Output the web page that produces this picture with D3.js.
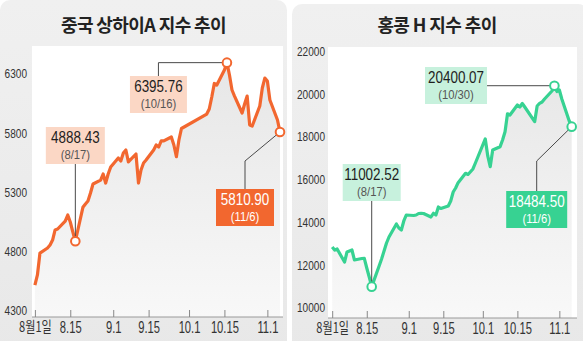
<!DOCTYPE html>
<html>
<head>
<meta charset="utf-8">
<script src="https://cdn.jsdelivr.net/npm/d3@7"></script>
<style>
  html, body { margin: 0; padding: 0; background: #fff; }
  svg { display: block; }
  .num { font-family: "Liberation Sans", Arial, sans-serif; }
  .kr  { font-family: "Noto Sans CJK KR", "Noto Sans", sans-serif; }
</style>
</head>
<body>
<svg id="chart" width="583" height="341"></svg>
<script>
// ---- Shanghai A-share index, daily close (2007) ----
const shDates = [
  "2007-08-01","2007-08-02","2007-08-03","2007-08-06","2007-08-07","2007-08-08","2007-08-09","2007-08-10",
  "2007-08-13","2007-08-14","2007-08-15","2007-08-16","2007-08-17","2007-08-20","2007-08-21","2007-08-22",
  "2007-08-23","2007-08-24","2007-08-27","2007-08-28","2007-08-29","2007-08-30","2007-08-31",
  "2007-09-03","2007-09-04","2007-09-05","2007-09-06","2007-09-07","2007-09-10","2007-09-11","2007-09-12",
  "2007-09-13","2007-09-14","2007-09-17","2007-09-18","2007-09-19","2007-09-20","2007-09-21","2007-09-24",
  "2007-09-25","2007-09-26","2007-09-27","2007-09-28",
  "2007-10-08","2007-10-09","2007-10-10","2007-10-11","2007-10-12","2007-10-15","2007-10-16","2007-10-17",
  "2007-10-18","2007-10-19","2007-10-22","2007-10-23","2007-10-24","2007-10-25","2007-10-26","2007-10-29",
  "2007-10-30","2007-10-31",
  "2007-11-01","2007-11-02","2007-11-05","2007-11-06"
];
const shValues = [
  4519, 4604, 4789, 4832, 4857, 4899, 4984, 4992,
  5059, 5110, 5051, 4967, 4888.43, 5175, 5203, 5228,
  5296, 5372, 5405, 5456, 5380, 5456, 5515,
  5591, 5566, 5633, 5659, 5558, 5625, 5380, 5490,
  5549, 5574, 5659, 5701, 5684, 5735, 5735, 5768,
  5701, 5602, 5743, 5840,
  5962, 6005, 6106, 6220, 6207, 6334, 6395.76, 6292,
  6165, 6114, 5971, 6047, 6114, 5870, 5861, 6030,
  6182, 6266,
  6241, 6081, 5912, 5810.90
];

// ---- Hang Seng China Enterprises (H-share) index, daily close (2007) ----
const hkDates = [
  "2007-08-01","2007-08-02","2007-08-03","2007-08-06","2007-08-07","2007-08-08","2007-08-09","2007-08-10",
  "2007-08-13","2007-08-14","2007-08-15","2007-08-16","2007-08-17","2007-08-20","2007-08-21","2007-08-22",
  "2007-08-23","2007-08-24","2007-08-27","2007-08-28","2007-08-29","2007-08-30","2007-08-31",
  "2007-09-03","2007-09-04","2007-09-05","2007-09-06","2007-09-07","2007-09-10","2007-09-11","2007-09-12",
  "2007-09-13","2007-09-14","2007-09-17","2007-09-18","2007-09-19","2007-09-20","2007-09-21","2007-09-24",
  "2007-09-25","2007-09-27","2007-09-28",
  "2007-10-02","2007-10-03","2007-10-04","2007-10-05","2007-10-08","2007-10-09","2007-10-10","2007-10-11",
  "2007-10-12","2007-10-15","2007-10-16","2007-10-17","2007-10-18","2007-10-22","2007-10-23","2007-10-24",
  "2007-10-25","2007-10-26","2007-10-29","2007-10-30","2007-10-31",
  "2007-11-01","2007-11-02","2007-11-05","2007-11-06"
];
const hkValues = [
  12858, 12717, 12764, 12156, 12624, 12671, 12717, 12250,
  12320, 12330, 11875, 11455, 11002.52, 11969, 12296, 12670,
  13045, 13325, 13933, 13746, 13653, 14074, 14354,
  14331, 14354, 14424, 14434, 14424, 14261, 14434, 14354,
  14728, 14658, 14775, 15009, 15430, 15617, 15865, 16305,
  16249, 16506, 16786,
  17909, 17114, 16613, 17394, 17549, 17862, 18250, 19087,
  19031, 19499, 19405, 19569, 19405, 18718, 19452, 19578,
  19639, 19780, 20154, 20400.07, 20130,
  20200, 19780, 18750, 18484.50
];

// ---- axes ----
const tickDates  = ["2007-08-01","2007-08-15","2007-09-01","2007-09-15","2007-10-01","2007-10-15","2007-11-01"];
const tickLabels = ["8월1일","8.15","9.1","9.15","10.1","10.15","11.1"];
const shTicks = [4300, 4800, 5300, 5800, 6300];
const hkTicks = [10000, 12000, 14000, 16000, 18000, 20000, 22000];

// ---- highlighted points ----
const shMarked = ["2007-08-17", "2007-10-16", "2007-11-06"];
const hkMarked = ["2007-08-17", "2007-10-30", "2007-11-06"];

const parse = d3.timeParse("%Y-%m-%d");
const fmtVal = d3.format(".2f");
const fmtDay = d3.timeFormat("%-m/%-d");

const svg = d3.select("#chart");
const defs = svg.append("defs");

// condensed text: drawn at the origin, then moved and squeezed horizontally
function squeezed(parent, x, y, sx) {
  return parent.append("text")
    .attr("transform", `translate(${x},${y}) scale(${sx},1)`);
}

const panels = [
  {
    id: "sh", title: "중국 상하이A 지수 추이",
    dates: shDates, values: shValues, yTicks: shTicks, marked: shMarked,
    color: "#f2672f", light: "#fbd7c5",
    frame: { x: 0, y: 0, w: 287 },
    plot: { left: 32, right: 283, top: 46, bottom: 317 },
    xRange: [34.9, 280], yDomain: [4300, 6300], yRange: [311, 74],
    labelX: 27, titleX: 143.5,
    callouts: [
      { i: 0, dx: 0,     top: 127, w: 59, kind: "down" },
      { i: 1, dx: -68.5, top: 76,  w: 57, kind: "elbow" },
      { i: 2, dx: -35,   top: 189, w: 58, kind: "diag", knee: 161, filled: true }
    ]
  },
  {
    id: "hk", title: "홍콩 H 지수 추이",
    dates: hkDates, values: hkValues, yTicks: hkTicks, marked: hkMarked,
    color: "#37d292", light: "#c7f1dd",
    frame: { x: 292, y: 4, w: 296 },
    plot: { left: 328, right: 577, top: 47, bottom: 318 },
    xRange: [332.2, 571.7], yDomain: [10000, 22000], yRange: [308.1, 51.5],
    labelX: 325, titleX: 437,
    callouts: [
      { i: 0, dx: 0,     top: 164, w: 58, kind: "down" },
      { i: 1, dx: -98.4, top: 67,  w: 62, kind: "side" },
      { i: 2, dx: -35,   top: 191, w: 61, kind: "diag", knee: 161, filled: true }
    ]
  }
];

// panel background gradient
const pg = defs.append("linearGradient").attr("id", "panelBg")
  .attr("x1", 0).attr("y1", 0).attr("x2", 0).attr("y2", 1);
pg.append("stop").attr("offset", "0%").attr("stop-color", "#f0f0f0");
pg.append("stop").attr("offset", "100%").attr("stop-color", "#e8e8e8");

panels.forEach(p => {
  const data = p.dates.map((d, k) => ({ date: parse(d), value: p.values[k] }));
  const x = d3.scaleTime()
    .domain([parse("2007-08-01"), parse("2007-11-06")])
    .range(p.xRange);
  const y = d3.scaleLinear().domain(p.yDomain).range(p.yRange);

  const g = svg.append("g");

  // panel and plot background
  g.append("rect")
    .attr("x", p.frame.x).attr("y", p.frame.y)
    .attr("width", p.frame.w).attr("height", 360)
    .attr("rx", 10).attr("fill", "url(#panelBg)");
  g.append("rect")
    .attr("x", p.plot.left).attr("y", p.plot.top)
    .attr("width", p.plot.right - p.plot.left)
    .attr("height", p.plot.bottom - p.plot.top)
    .attr("fill", "#ffffff");

  // title
  g.append("text").attr("class", "kr")
    .attr("x", p.titleX).attr("y", 24)
    .attr("text-anchor", "middle").attr("dominant-baseline", "central")
    .attr("font-size", 18).attr("font-weight", 700)
    .attr("letter-spacing", -0.6)
    .attr("fill", "#222")
    .text(p.title);

  // area under the line
  const ag = defs.append("linearGradient").attr("id", "area-" + p.id)
    .attr("gradientUnits", "userSpaceOnUse")
    .attr("x1", 0).attr("y1", p.plot.top + 10).attr("x2", 0).attr("y2", p.plot.bottom);
  ag.append("stop").attr("offset", "0%").attr("stop-color", "#e6e6e6");
  ag.append("stop").attr("offset", "100%").attr("stop-color", "#f8f8f8");

  g.append("path").datum(data)
    .attr("fill", "url(#area-" + p.id + ")")
    .attr("d", d3.area()
      .x(d => x(d.date)).y0(p.plot.bottom).y1(d => y(d.value)));

  // y tick labels
  p.yTicks.forEach(t => {
    squeezed(g, p.labelX, y(t), 0.84)
      .attr("class", "num")
      .attr("text-anchor", "end").attr("dominant-baseline", "central")
      .attr("font-size", 12).attr("fill", "#333")
      .text(t);
  });

  // x axis
  const xAxis = d3.axisBottom(x)
    .tickValues(tickDates.map(parse))
    .tickFormat((d, k) => tickLabels[k])
    .tickSizeInner(-7).tickSizeOuter(0).tickPadding(4);
  const ax = g.append("g").attr("transform", `translate(0,${p.plot.bottom})`).call(xAxis);
  ax.select(".domain").remove();
  ax.insert("line", ":first-child")
    .attr("x1", p.plot.left).attr("x2", p.plot.right)
    .attr("stroke", "#9a9a9a").attr("stroke-width", 1);
  ax.selectAll(".tick line").attr("stroke", "#888");
  ax.selectAll(".tick text")
    .attr("class", (d, k) => k === 0 ? "kr" : "num")
    .attr("font-size", (d, k) => k === 0 ? 15 : 16.5)
    .attr("transform", (d, k) => k === 0 ? "scale(0.74,1)" : "scale(0.68,1)")
    .attr("fill", "#333");

  // index line
  g.append("path").datum(data)
    .attr("fill", "none").attr("stroke", p.color)
    .attr("stroke-width", 3.2).attr("stroke-linejoin", "round")
    .attr("d", d3.line().x(d => x(d.date)).y(d => y(d.value)));

  // callouts
  const boxH = 37;
  p.callouts.forEach(c => {
    const d = data.find(e => +e.date === +parse(p.marked[c.i]));
    const px = x(d.date), py = y(d.value);
    const cx = px + c.dx;
    const left = cx - c.w / 2;
    let pts;
    if (c.kind === "down") pts = [[cx, c.top + boxH], [px, py]];
    else if (c.kind === "elbow") pts = [[cx, c.top], [cx, py], [px, py]];
    else if (c.kind === "side") pts = [[left + c.w, py], [px, py]];
    else pts = [[cx, c.top], [cx, c.knee], [px, py]];
    g.append("path")
      .attr("d", d3.line()(pts))
      .attr("fill", "none").attr("stroke", "#4a4a4a").attr("stroke-width", 1);

    g.append("rect")
      .attr("x", left).attr("y", c.top)
      .attr("width", c.w).attr("height", boxH)
      .attr("fill", c.filled ? p.color : p.light);
    squeezed(g, cx, c.top + 11, 0.84)
      .attr("class", "num")
      .attr("text-anchor", "middle").attr("dominant-baseline", "central")
      .attr("font-size", 16).attr("fill", c.filled ? "#fff" : "#1e1e1e")
      .text(fmtVal(d.value));
    squeezed(g, cx, c.top + 27.5, 0.9)
      .attr("class", "num")
      .attr("text-anchor", "middle").attr("dominant-baseline", "central")
      .attr("font-size", 12.5).attr("fill", c.filled ? "#fff" : "#555")
      .text("(" + fmtDay(d.date) + ")");

    g.append("circle")
      .attr("cx", px).attr("cy", py).attr("r", 4.3)
      .attr("fill", "#fff").attr("stroke", p.color).attr("stroke-width", 2);
  });
});
</script>
</body>
</html>
